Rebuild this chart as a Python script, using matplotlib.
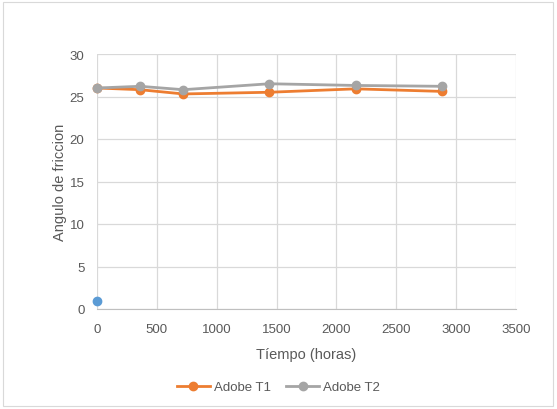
import matplotlib.pyplot as plt

plt.rcParams['font.family'] = ['Liberation Sans', 'DejaVu Sans']

# Datos de ensayo
tiempo = [0, 360, 720, 1440, 2160, 2880]
adobe_t1 = [26.0, 25.8, 25.3, 25.5, 25.9, 25.6]
adobe_t2 = [26.0, 26.2, 25.8, 26.5, 26.3, 26.2]
punto_x = [0]
punto_y = [1]

x_ticks = [0, 500, 1000, 1500, 2000, 2500, 3000, 3500]
y_ticks = [0, 5, 10, 15, 20, 25, 30]

TXT = '#595959'
GRID = '#d9d9d9'

fig = plt.figure(figsize=(5.57, 4.10), dpi=100)
ax = fig.add_axes([97 / 557, 100 / 410, 419 / 557, 255 / 410])

ax.plot(punto_x, punto_y, 'o', color='#5b9bd5', markersize=6, zorder=3, clip_on=False)
ax.plot(tiempo, adobe_t1, '-o', color='#ed7d31', lw=2, markersize=6,
        label='Adobe T1', zorder=3, clip_on=False)
ax.plot(tiempo, adobe_t2, '-o', color='#a5a5a5', lw=2, markersize=6,
        label='Adobe T2', zorder=4, clip_on=False)

ax.set_xlim(0, 3500)
ax.set_ylim(0, 30)
ax.set_xticks(x_ticks)
ax.set_yticks(y_ticks)
ax.grid(True, color=GRID, lw=0.9)
ax.set_axisbelow(True)
for s in ['top', 'right', 'left']:
    ax.spines[s].set_visible(False)
ax.spines['bottom'].set_color('#bfbfbf')
ax.tick_params(axis='x', length=0, labelsize=9.5, colors=TXT, pad=10)
ax.tick_params(axis='y', length=0, labelsize=9.5, colors=TXT, pad=9)

ax.set_xlabel('Tíempo (horas)', fontsize=10.5, color=TXT, labelpad=9)
ax.set_ylabel('Angulo de friccion', fontsize=10.5, color=TXT, labelpad=2)

fig.legend(loc='center', bbox_to_anchor=(0.5, 22 / 410), ncol=2, frameon=False,
           fontsize=9.5, labelcolor=TXT, handlelength=2.5, columnspacing=1.2,
           handletextpad=0.3)

# borde exterior del gráfico
fig.patches.append(plt.Rectangle((3 / 557, 3 / 410), 550 / 557, 404 / 410,
                                 transform=fig.transFigure, fill=False,
                                 edgecolor='#d9d9d9', lw=0.8))

fig.savefig('out.png', dpi=100)
